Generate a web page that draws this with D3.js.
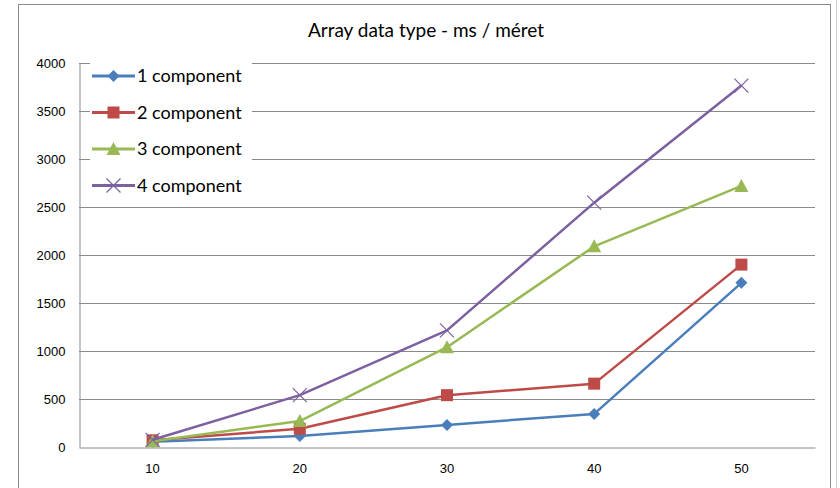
<!DOCTYPE html>
<html>
<head>
<meta charset="utf-8">
<script src="https://cdn.jsdelivr.net/npm/d3@7"></script>
<style>
  body { margin: 0; background: #fff; }
  svg { font-family: Lato, "Open Sans", sans-serif; }
</style>
</head>
<body>
<div id="chart"></div>
<script>
// data
var sizes = [10, 20, 30, 40, 50];
var seriesNames = ["1 component", "2 component", "3 component", "4 component"];
var comp1 = [55, 115, 230, 345, 1710];
var comp2 = [70, 190, 540, 660, 1900];
var comp3 = [60, 270, 1040, 2090, 2720];
var comp4 = [75, 540, 1215, 2545, 3765];
var yTicks = [0, 500, 1000, 1500, 2000, 2500, 3000, 3500, 4000];

var colors = ["#4a7ebb", "#be4b48", "#98b954", "#7d60a0"];
var symbols = ["diamond", "square", "triangle", "x"];
var allSeries = [comp1, comp2, comp3, comp4];

var W = 840, H = 488;
var plot = {left: 79, right: 815, top: 63, bottom: 447};

var svg = d3.select("#chart").append("svg")
    .attr("width", W)
    .attr("height", H);

// outer chart border
svg.append("rect")
    .attr("x", 18.5).attr("y", 4.5)
    .attr("width", 812).attr("height", 500)
    .attr("fill", "#fff")
    .attr("stroke", "#8c8c8c");

// clipped neighbour axis at the right edge
svg.append("line")
    .attr("x1", 836.5).attr("x2", 836.5)
    .attr("y1", 0).attr("y2", H)
    .attr("stroke", "#d0d0d0");

var x = d3.scaleBand().domain(sizes).range([plot.left, plot.right]);
var y = d3.scaleLinear().domain([0, 4000]).range([plot.bottom, plot.top]);

// gridlines
svg.append("g")
  .selectAll("line")
  .data(yTicks.filter(function(d) { return d > 0; }))
  .enter().append("line")
    .attr("x1", plot.left).attr("x2", plot.right)
    .attr("y1", function(d) { return Math.round(y(d)) + 0.5; })
    .attr("y2", function(d) { return Math.round(y(d)) + 0.5; })
    .attr("stroke", "#8a8a8a");

// y axis
var yAxis = d3.axisLeft(y).tickValues(yTicks).tickFormat(d3.format("d"))
    .tickSize(0).tickPadding(14);
var gy = svg.append("g")
    .attr("transform", "translate(" + (plot.left + 0.5) + ",0)")
    .call(yAxis);
gy.select(".domain").attr("stroke", "#8a8a8a");
gy.selectAll("text").attr("font-size", 13).attr("fill", "#000");

// x axis
var xAxis = d3.axisBottom(x).tickSize(0).tickPadding(16);
var gx = svg.append("g")
    .attr("transform", "translate(0," + (plot.bottom + 0.5) + ")")
    .call(xAxis);
gx.select(".domain").attr("stroke", "#8a8a8a");
gx.selectAll("text").attr("font-size", 13).attr("fill", "#000");

var cx = function(i) { return x(sizes[i]) + x.bandwidth() / 2; };

var line = d3.line()
    .x(function(d, i) { return cx(i); })
    .y(function(d) { return y(d); });

function drawMarker(g, k, px, py) {
  var c = colors[k];
  if (symbols[k] === "diamond") {
    g.append("path")
      .attr("d", "M0,-6L6,0L0,6L-6,0Z")
      .attr("transform", "translate(" + px + "," + py + ")")
      .attr("fill", c);
  } else if (symbols[k] === "square") {
    g.append("rect")
      .attr("x", px - 6).attr("y", py - 6)
      .attr("width", 12).attr("height", 12)
      .attr("fill", c);
  } else if (symbols[k] === "triangle") {
    g.append("path")
      .attr("d", "M0,-7L7,6L-7,6Z")
      .attr("transform", "translate(" + px + "," + py + ")")
      .attr("fill", c);
  } else {
    g.append("path")
      .attr("d", "M-7,-7L7,7M-7,7L7,-7")
      .attr("transform", "translate(" + px + "," + py + ")")
      .attr("stroke", c).attr("stroke-width", 1.2)
      .attr("fill", "none");
  }
}

allSeries.forEach(function(s, k) {
  var g = svg.append("g");
  g.append("path")
    .datum(s)
    .attr("d", line)
    .attr("fill", "none")
    .attr("stroke", colors[k])
    .attr("stroke-width", 2.5)
    .attr("stroke-linejoin", "round");
  s.forEach(function(v, i) { drawMarker(g, k, cx(i), y(v)); });
});

// title
svg.append("text")
    .attr("x", 426).attr("y", 37)
    .attr("text-anchor", "middle")
    .attr("font-size", 19)
    .attr("fill", "#000")
    .text("Array data type - ms / méret");

// legend (white box over the plot)
var leg = svg.append("g");
leg.append("rect")
    .attr("x", 90).attr("y", 60)
    .attr("width", 162).attr("height", 140)
    .attr("fill", "#fff");
seriesNames.forEach(function(name, k) {
  var ly = 76 + k * 36.5;
  leg.append("line")
    .attr("x1", 92).attr("x2", 135)
    .attr("y1", ly).attr("y2", ly)
    .attr("stroke", colors[k]).attr("stroke-width", 3);
  drawMarker(leg, k, 113.5, ly);
  leg.append("text")
    .attr("x", 137).attr("y", ly + 6)
    .attr("font-size", 18)
    .attr("fill", "#000")
    .text(name);
});
</script>
</body>
</html>
